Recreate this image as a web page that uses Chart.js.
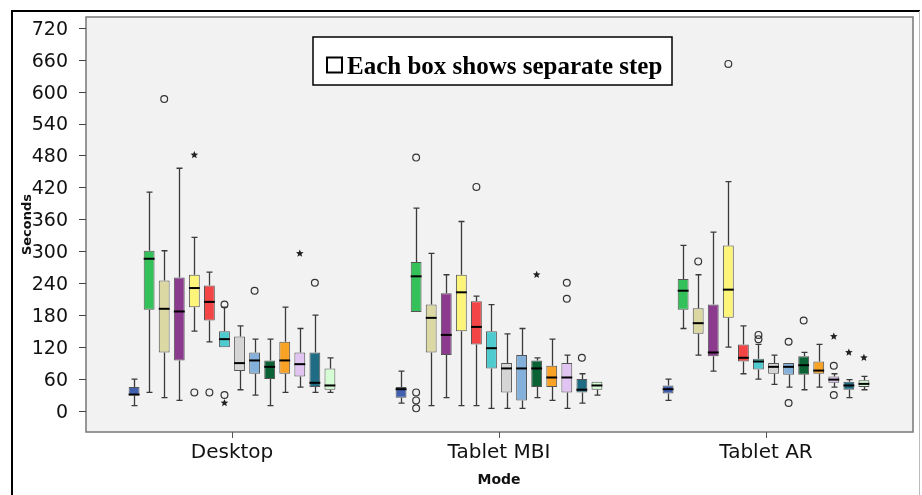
<!DOCTYPE html>
<html>
<head>
<meta charset="utf-8">
<script src="https://cdn.jsdelivr.net/npm/chart.js@4.4.1/dist/chart.umd.min.js"></script>
<style>
  body { margin: 0; background: #fff; }
  canvas { display: block; }
</style>
</head>
<body>
<canvas id="boxChart" width="922" height="495"></canvas>
<script>
// Categories, steps and axis ticks
const modes = ['Desktop', 'Tablet MBI', 'Tablet AR'];
const steps = ['Step 1', 'Step 2', 'Step 3', 'Step 4', 'Step 5', 'Step 6', 'Step 7',
               'Step 8', 'Step 9', 'Step 10', 'Step 11', 'Step 12', 'Step 13', 'Step 14'];
const yTicks = [0, 60, 120, 180, 240, 300, 360, 420, 480, 540, 600, 660, 720];

// [min, Q1, median, Q3, max] per step (seconds)
const desktop = [
    [10, 29, 31, 45, 60], [35, 190, 286, 301, 411], [25, 110, 192, 245, 301],
    [20, 95, 187, 251, 456], [150, 195, 231, 256, 326], [130, 170, 205, 236, 261],
    [120, 120, 135, 150, 195], [40, 75, 90, 140, 160], [30, 70, 95, 110, 135],
    [10, 60, 83, 95, 135], [35, 70, 95, 130, 195], [45, 65, 88, 110, 155],
    [35, 45, 53, 110, 180], [35, 40, 48, 80, 100]
];
const tabletMBI = [
    [15, 25, 41, 45, 75], [186, 186, 253, 280, 381], [10, 110, 175, 200, 296],
    [25, 105, 143, 221, 256], [10, 150, 223, 256, 356], [10, 125, 158, 206, 216],
    [5, 80, 118, 150, 200], [5, 35, 80, 90, 145], [5, 20, 80, 105, 155],
    [25, 45, 80, 95, 100], [20, 45, 63, 85, 135], [5, 35, 63, 90, 105],
    [15, 35, 40, 60, 70], [30, 40, 48, 55, 55]
];
const tabletAR = [
    [20, 33, 41, 48, 60], [155, 190, 226, 248, 311], [105, 145, 165, 193, 256],
    [75, 103, 110, 200, 336], [120, 175, 228, 311, 431], [70, 93, 100, 125, 160],
    [60, 78, 93, 98, 125], [50, 70, 83, 90, 105], [45, 68, 83, 90, 90],
    [40, 68, 86, 103, 110], [45, 70, 76, 93, 125], [45, 53, 59, 65, 70],
    [25, 40, 48, 55, 59], [40, 45, 51, 58, 65]
];

// outliers (circles) and extremes (stars): [step, seconds]
const desktopOutliers = [[3, 586], [5, 35], [6, 35], [7, 200], [7, 30], [9, 226], [13, 241]];
const desktopExtremes = [[5, 481], [7, 15], [12, 296]];
const mbiOutliers = [[2, 476], [2, 35], [2, 20], [2, 5], [6, 421], [12, 241], [12, 211], [13, 100]];
const mbiExtremes = [[10, 256]];
const arOutliers = [[3, 281], [5, 652], [7, 143], [7, 135], [9, 130], [9, 15], [10, 170], [12, 85], [12, 30]];
const arExtremes = [[12, 140], [13, 110], [14, 100]];

const boxColors = ['#4160b0', '#35c159', '#dcd8a4', '#8c3a8e', '#fdf47a', '#f34545', '#4ecbcf',
                   '#d5d5d5', '#83b1dc', '#0b6234', '#f9a326', '#e2c4f3', '#1f6c84', '#d5fcd5'];

const boxes = [desktop, tabletMBI, tabletAR];
const outliers = [desktopOutliers, mbiOutliers, arOutliers];
const extremes = [desktopExtremes, mbiExtremes, arExtremes];

const datasets = steps.map((step, i) => ({
    label: step,
    data: boxes.map(b => [b[i][1], b[i][3]]),
    backgroundColor: boxColors[i],
    borderColor: '#555',
    borderWidth: 1,
    borderSkipped: false,
    categoryPercentage: 0.79,
    barPercentage: 0.72
}));

function drawStar(ctx, x, y, r) {
    ctx.beginPath();
    for (let k = 0; k < 10; k++) {
        const rr = k % 2 === 0 ? r : r * 0.45;
        const ang = -Math.PI / 2 + k * Math.PI / 5;
        ctx.lineTo(x + rr * Math.cos(ang), y + rr * Math.sin(ang));
    }
    ctx.closePath();
    ctx.fill();
}

const boxPlot = {
    id: 'boxPlot',
    beforeDraw(chart) {
        const { ctx, chartArea: a } = chart;
        const left = a.left - 12.5, right = a.right + 13.5;
        ctx.save();
        ctx.fillStyle = '#fff';
        ctx.fillRect(0, 0, chart.width, chart.height);
        // outer frame
        ctx.strokeStyle = '#000';
        ctx.lineWidth = 2;
        ctx.beginPath();
        ctx.moveTo(12, chart.height);
        ctx.lineTo(12, 11);
        ctx.lineTo(920, 11);
        ctx.stroke();
        ctx.strokeStyle = '#bbb';
        ctx.lineWidth = 1;
        ctx.beginPath();
        ctx.moveTo(919.5, 11);
        ctx.lineTo(919.5, chart.height);
        ctx.stroke();
        // plot panel
        ctx.fillStyle = '#f2f2f2';
        ctx.fillRect(left, a.top, right - left, a.bottom - a.top);
        ctx.strokeStyle = '#777';
        ctx.lineWidth = 1.5;
        ctx.strokeRect(left, a.top, right - left, a.bottom - a.top);
        // y tick marks
        const y = chart.scales.y;
        ctx.strokeStyle = '#444';
        ctx.lineWidth = 1;
        y.ticks.forEach(t => {
            const py = Math.round(y.getPixelForValue(t.value)) + 0.5;
            ctx.beginPath();
            ctx.moveTo(left - 7, py);
            ctx.lineTo(left, py);
            ctx.stroke();
        });
        ctx.restore();
    },
    beforeDatasetsDraw(chart) {
        const { ctx } = chart;
        const y = chart.scales.y;
        ctx.save();
        ctx.strokeStyle = '#3a3a3a';
        ctx.lineWidth = 1.3;
        steps.forEach((s, i) => {
            const meta = chart.getDatasetMeta(i);
            boxes.forEach((b, j) => {
                const v = b[i];
                const bar = meta.data[j];
                const x = Math.round(bar.x) + 0.5;
                const ends = [[v[3], v[4]], [v[1], v[0]]];
                ends.forEach(([from, to]) => {
                    if (from === to) return;
                    const p1 = y.getPixelForValue(from), p2 = y.getPixelForValue(to);
                    ctx.beginPath();
                    ctx.moveTo(x, p1);
                    ctx.lineTo(x, p2);
                    ctx.moveTo(x - 3, p2);
                    ctx.lineTo(x + 3, p2);
                    ctx.stroke();
                });
            });
        });
        ctx.restore();
    },
    afterDatasetsDraw(chart) {
        const { ctx } = chart;
        const y = chart.scales.y;
        ctx.save();
        // medians
        ctx.strokeStyle = '#000';
        ctx.lineWidth = 2;
        steps.forEach((s, i) => {
            const meta = chart.getDatasetMeta(i);
            boxes.forEach((b, j) => {
                const bar = meta.data[j];
                const py = y.getPixelForValue(b[i][2]);
                ctx.beginPath();
                ctx.moveTo(bar.x - bar.width / 2, py);
                ctx.lineTo(bar.x + bar.width / 2, py);
                ctx.stroke();
            });
        });
        // outliers and extremes
        ctx.strokeStyle = '#333';
        ctx.fillStyle = '#222';
        ctx.lineWidth = 1.2;
        modes.forEach((m, j) => {
            outliers[j].forEach(([step, val]) => {
                const bar = chart.getDatasetMeta(step - 1).data[j];
                ctx.beginPath();
                ctx.arc(bar.x, y.getPixelForValue(val), 3.4, 0, Math.PI * 2);
                ctx.stroke();
            });
            extremes[j].forEach(([step, val]) => {
                const bar = chart.getDatasetMeta(step - 1).data[j];
                drawStar(ctx, bar.x, y.getPixelForValue(val), 4);
            });
        });
        // annotation
        ctx.fillStyle = '#fff';
        ctx.fillRect(313, 37, 359, 48);
        ctx.strokeStyle = '#000';
        ctx.lineWidth = 1.5;
        ctx.strokeRect(313, 37, 359, 48);
        ctx.lineWidth = 2;
        ctx.strokeRect(327, 57.5, 15, 15);
        ctx.fillStyle = '#000';
        ctx.font = 'bold 25px "Liberation Serif", "Times New Roman", serif';
        ctx.textBaseline = 'alphabetic';
        ctx.fillText('Each box shows separate step', 347, 73.5);
        ctx.restore();
    }
};

const ctx = document.getElementById('boxChart').getContext('2d');
const chart = new Chart(ctx, {
    type: 'bar',
    data: { labels: modes, datasets: datasets },
    options: {
        responsive: false,
        animation: false,
        layout: { padding: { top: 17, right: 22.5, bottom: 0, left: 0 } },
        plugins: { legend: { display: false }, tooltip: { enabled: false } },
        scales: {
            x: {
                offset: true,
                grid: { display: true, drawOnChartArea: false, offset: false, tickLength: 6, color: '#555' },
                border: { display: false },
                ticks: { color: '#111', padding: 3, font: { family: 'DejaVu Sans', size: 20 } },
                title: {
                    display: true, text: 'Mode', color: '#111',
                    font: { family: 'DejaVu Sans', size: 14, weight: 'bold' },
                    padding: { top: 0, bottom: 6.6 }
                },
                afterFit: scale => { scale.height = 63; }
            },
            y: {
                min: -39.4,
                max: 740.1,
                grid: { display: false },
                border: { display: false },
                afterBuildTicks: scale => { scale.ticks = yTicks.map(v => ({ value: v })); },
                ticks: { color: '#111', padding: 22.5, labelOffset: 2, font: { family: 'DejaVu Sans', size: 19 } },
                title: {
                    display: true, text: 'Seconds', color: '#111',
                    font: { family: 'DejaVu Sans', size: 13, weight: 'bold' },
                    padding: { top: 20, bottom: 0 }
                },
                afterFit: scale => {
                    scale.width = 98.5;
                    scale.paddingTop = 0;
                    scale.paddingBottom = 0;
                }
            }
        }
    },
    plugins: [boxPlot]
});
</script>
</body>
</html>
